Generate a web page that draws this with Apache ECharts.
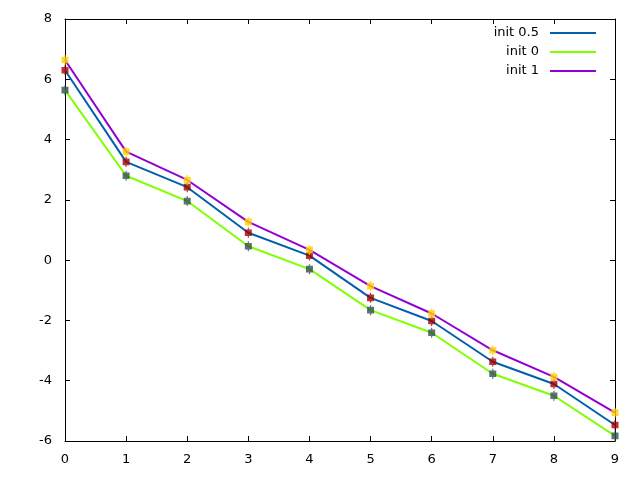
<!DOCTYPE html>
<html><head><meta charset="utf-8">
<script src="https://cdn.jsdelivr.net/npm/echarts@6/dist/echarts.min.js"></script>
<style>html,body{margin:0;padding:0;background:#fff}#c{width:640px;height:480px}</style>
</head><body><div id="c"></div>
<script>
var xs = [0,1,2,3,4,5,6,7,8,9];
var init05 = [6.30, 3.26, 2.42, 0.91, 0.15, -1.25, -2.02, -3.37, -4.11, -5.47];
var init0  = [5.64, 2.80, 1.96, 0.46, -0.30, -1.66, -2.41, -3.77, -4.50, -5.83];
var init1  = [6.64, 3.60, 2.66, 1.27, 0.34, -0.86, -1.77, -2.99, -3.87, -5.06];
var names = ['init 0.5', 'init 0', 'init 1'];
var lineColors = ['#0060ad', '#7fff00', '#9400d3'];
var markColors = ['#a00000', '#2f4f4f', '#ffd000'];
var series_vals = [init05, init0, init1];

function pairs(v){ return xs.map(function(x,i){ return [x, v[i]]; }); }
var FONT = 'DejaVu Sans';
var marker = 'path://M0,1.5H2.5V0H3.5V1.5H6V7.5H3.5V9H2.5V7.5H0Z';

var series = [];
series_vals.forEach(function(v,i){
  series.push({name:names[i], type:'line', data:pairs(v), symbol:'none', color:lineColors[i],
    lineStyle:{width:2, color:lineColors[i]}, z:2, animation:false});
});
series_vals.forEach(function(v,i){
  series.push({name:names[i]+' pts', type:'scatter', data:pairs(v), symbol:marker, symbolSize:[7,10],
    itemStyle:{color:markColors[i]}, z:3, animation:false});
});

function leg(i, top){
  return {data:[{name:names[i], icon:'rect', itemStyle:{color:lineColors[i]}}], right:39, top:top, orient:'vertical', align:'right',
    itemWidth:46, itemHeight:2, selectedMode:false,
    textStyle:{fontFamily:FONT, fontSize:13, color:'#000', lineHeight:14, padding:[0,6,0,0]}};
}

var axLbl = {fontFamily:FONT, fontSize:13, color:'#000'};
var hidLbl = {fontFamily:FONT, fontSize:13, color:'rgba(0,0,0,0)', inside:true};
function ax(pos, lbl, extra){
  return Object.assign({type:'value', position:pos, show:true,
     axisLine:{show:true, onZero:false, lineStyle:{color:'#000', width:1}},
     axisTick:{show:true, inside:true, length:5, lineStyle:{color:'#000'}},
     axisLabel:lbl, splitLine:{show:false}}, extra);
}
var chart = echarts.init(document.getElementById('c'), null, {renderer:'canvas'});
chart.setOption({
  animation:false,
  backgroundColor:'#fff',
  grid:{left:65, right:25, top:19, bottom:39, show:false, containLabel:false, outerBoundsMode:'none'},
  legend:[leg(0,21), leg(1,40), leg(2,59)],
  xAxis:[
    ax('bottom', Object.assign({margin:12}, axLbl), {min:0, max:9, interval:1}),
    ax('top', hidLbl, {min:0, max:9, interval:1})
  ],
  yAxis:[
    ax('left', Object.assign({margin:13}, axLbl), {min:-6, max:8, interval:2}),
    ax('right', hidLbl, {min:-6, max:8, interval:2})
  ],
  series:series
});
</script></body></html>
